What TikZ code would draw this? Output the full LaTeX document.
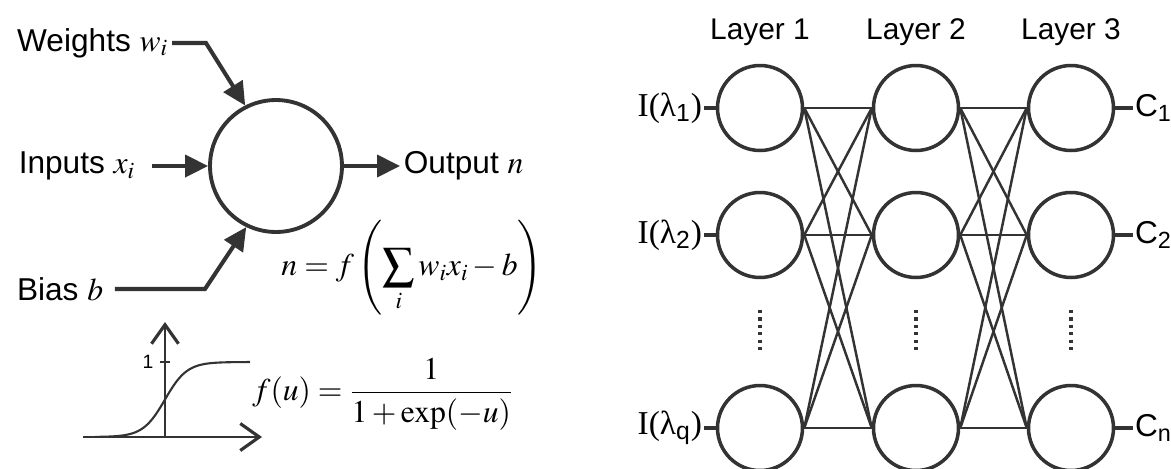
\documentclass[tikz,border=0pt]{standalone}
\usepackage{mathptmx}
\usepackage{fontspec}
\setmainfont{Liberation Serif}
\setsansfont{Liberation Sans}
\usetikzlibrary{arrows.meta}

\begin{document}
\begin{tikzpicture}[x=0.02cm, y=-0.02cm, line join=miter,
    font=\sffamily\fontsize{18}{21}\selectfont,
    >={Triangle[length=0.46cm,width=0.44cm]},
    lbl/.style={inner sep=2pt},
    neuron/.style={circle, draw=black!80, line width=2.2pt, minimum size=2.64cm, inner sep=0pt},
    unit/.style={circle, draw=black!80, line width=2pt, minimum size=1.7cm, inner sep=0pt},
    feed/.style={->, draw=black!80, line width=2.3pt},
    link/.style={draw=black!80, line width=1.4pt},
    axis/.style={-{Straight Barb[length=0.38cm,width=0.54cm,line width=1.8pt]}, draw=black!80, line width=1.2pt},
    dots/.style={draw=black!80, line width=2pt, dash pattern=on 1.8pt off 2.4pt}]

    % 1. Vùng hiển thị
    \useasboundingbox (0,0) rectangle (1171,468);
    \clip (0,0) rectangle (1171,468);

    % 2. Nơ-ron đơn và các nhãn
    \node[neuron] (cell) at (276,166) {};
    \node[lbl, anchor=east] (weights) at (172,43) {Weights $w_i$};
    \node[lbl, anchor=east] (inputs) at (139,166) {Inputs $x_i$};
    \node[lbl, anchor=east] (bias) at (107,289) {Bias $b$};
    \node[lbl, anchor=west] (output) at (400,166) {Output $n$};

    \draw[feed] (weights.east) -- ++(34,0) -- (cell.117);
    \draw[feed, shorten <=0.26cm] (inputs.east) -- (cell.west);
    \draw[feed, shorten <=0.16cm] (bias.east) -- (205,289) -- (cell.244);
    \draw[feed] (cell.east) -- (output.west);

    % 3. Công thức đầu ra
    \node (sumrule) at (412,268) {$\displaystyle n = f\left(\sum_i w_i x_i - b\right)$};

    % 4. Hàm sigmoid
    \draw[axis] (83,437) -- (262,437);
    \draw[axis] (165,437) -- (165,322);
    \draw[draw=black!80, line width=1pt] (160,362) -- (170,362);
    \node[font=\sffamily\fontsize{11}{13}\selectfont] (one) at (148,362) {1};
    \draw[draw=black!80, line width=1.2pt, domain=95:250, samples=80]
        plot (\x, {437 - 75/(1 + exp(-(\x - 165)/11))});
    \node[anchor=west, inner sep=0pt] (sigrule) at (252,394) {$\displaystyle f(u) = \frac{1}{1+\exp(-u)}$};

    % 5. Mạng ba lớp
    \foreach \col/\x in {1/760, 2/916, 3/1071} {
        \node[font=\sffamily\fontsize{17}{20}\selectfont] (layer\col) at (\x,32) {Layer \col};
        \foreach \row/\y in {1/108, 2/235, 3/428}
            \node[unit] (u\col\row) at (\x,\y) {};
        \draw[dots] (\x,310) -- (\x,354);
    }

    % các liên kết giữa các lớp
    \foreach \i in {1,2,3}
        \foreach \j in {1,2,3} {
            \draw[link] (u1\i.east) -- (u2\j.west);
            \draw[link] (u2\i.east) -- (u3\j.west);
        }

    % 6. Đầu vào và đầu ra
    \foreach \row/\y/\s in {1/108/1, 2/235/2, 3/428/q} {
        \node[inner sep=1pt, anchor=east, font=\rmfamily\fontsize{19}{22}\selectfont]
            (in\row) at (704,\y) {I(λ\textsubscript{\sffamily\s})};
        \draw[link, line width=2.2pt] (in\row.east) -- (u1\row.west);
    }
    \foreach \row/\y/\s in {1/108/1, 2/235/2, 3/428/n} {
        \node[inner sep=1pt, anchor=west] (out\row) at (1133,\y) {C\textsubscript{\s}};
        \draw[link, line width=2.2pt] (u3\row.east) -- (out\row.west);
    }
\end{tikzpicture}
\end{document}
